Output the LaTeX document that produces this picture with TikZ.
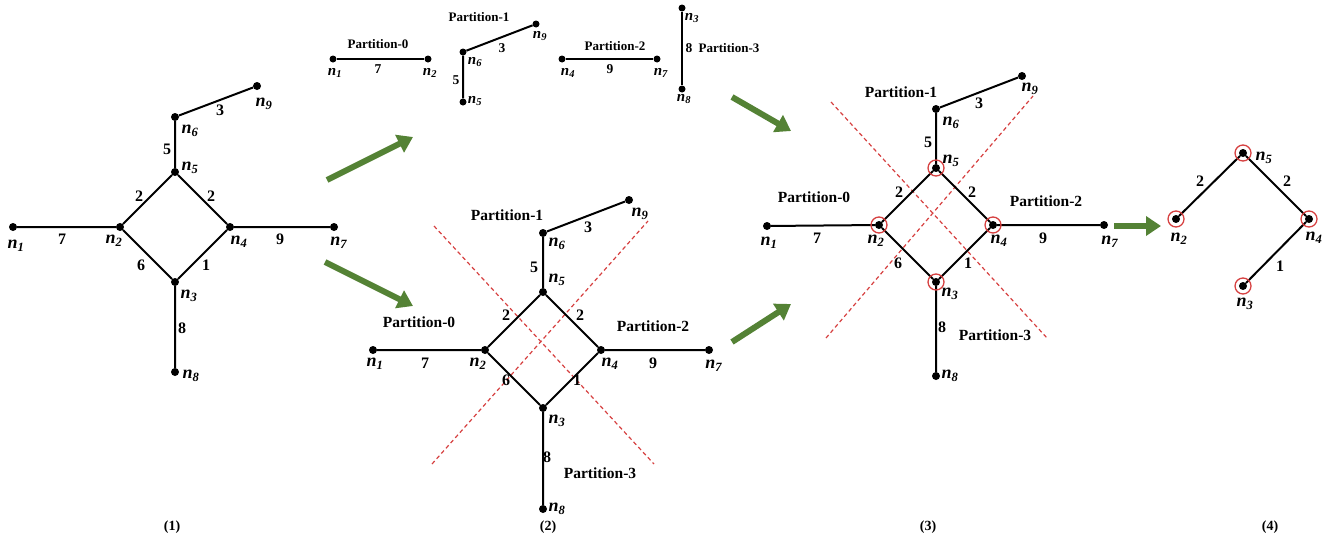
\documentclass[tikz,border=0pt]{standalone}
\usepackage{fontspec}
\setmainfont{Liberation Serif}
\usetikzlibrary{arrows.meta,calc}
\definecolor{garrowc}{RGB}{84,130,53}
\definecolor{cutc}{RGB}{214,64,64}
\newcommand\nnl[1]{\textbf{\textit{n}}\textsubscript{\textbf{\textit{#1}}}}
\tikzset{
  vdot/.style={circle,fill=black,inner sep=0pt,minimum size=8pt},
  sdot/.style={circle,fill=black,inner sep=0pt,minimum size=7pt},
  edge/.style={line width=2pt},
  wlab/.style={font=\fontsize{16}{16}\selectfont\bfseries,inner sep=0pt},
  nlab/.style={font=\fontsize{18}{18}\selectfont,inner sep=0pt},
  swlab/.style={font=\fontsize{13.5}{13.5}\selectfont\bfseries,inner sep=0pt},
  snlab/.style={font=\fontsize{15}{15}\selectfont,inner sep=0pt},
  plab/.style={font=\fontsize{15.5}{15.5}\selectfont\bfseries,inner sep=0pt},
  splab/.style={font=\fontsize{13}{13}\selectfont\bfseries,inner sep=0pt},
  caplab/.style={font=\fontsize{14}{14}\selectfont\bfseries,inner sep=0pt},
  cut/.style={cutc,line width=1.2pt,dash pattern=on 4pt off 3pt},
  ring/.style={circle,draw=cutc,line width=1.3pt,minimum size=16pt,inner sep=0pt},
  garrow/.style={garrowc,line width=6pt,-{Triangle[width=19pt,length=15pt]}},
}
\begin{document}
\begin{tikzpicture}[x=1pt,y=-1pt]
\useasboundingbox (0,0) rectangle (1330,544);

% ---------------- Panel 1 ----------------
\node[vdot] (a1) at (13,227) {};
\node[vdot] (a2) at (120,227) {};
\node[vdot] (a4) at (230,227) {};
\node[vdot] (a5) at (175,172) {};
\node[vdot] (a3) at (175,282) {};
\node[vdot] (a7) at (334,227) {};
\node[vdot] (a6) at (175,117) {};
\node[vdot] (a9) at (257,86) {};
\node[vdot] (a8) at (175,372) {};
\draw[edge] (a1)--(a2) (a2)--(a5) (a5)--(a4) (a4)--(a3) (a3)--(a2) (a4)--(a7) (a5)--(a6) (a6)--(a9) (a3)--(a8);
\node[nlab] (la1) at (16,246) {\nnl{1}};
\node[nlab] (la2) at (114,241) {\nnl{2}};
\node[nlab] (la4) at (239,242) {\nnl{4}};
\node[nlab] (la7) at (339,243) {\nnl{7}};
\node[nlab] (la3) at (189,296) {\nnl{3}};
\node[nlab] (la8) at (191,376) {\nnl{8}};
\node[nlab] (la5) at (190,168) {\nnl{5}};
\node[nlab] (la6) at (190,131) {\nnl{6}};
\node[nlab] (la9) at (264,104) {\nnl{9}};
\node[wlab] (wa7) at (62,239) {7};
\node[wlab] (wa9) at (280,239) {9};
\node[wlab] (wa2l) at (139,196) {2};
\node[wlab] (wa2r) at (211,196) {2};
\node[wlab] (wa6) at (141,265) {6};
\node[wlab] (wa1) at (206,265) {1};
\node[wlab] (wa8) at (182,328) {8};
\node[wlab] (wa5) at (167,149) {5};
\node[wlab] (wa3) at (220,110) {3};
\node[caplab] (cap1) at (172,527) {(1)};

% ---------------- Top partitions ----------------
\node[sdot] (t1) at (333,59) {};
\node[sdot] (t2) at (428,59) {};
\draw[edge] (t1)--(t2);
\node[splab] (tp0) at (378,44) {Partition-0};
\node[swlab] (tw7) at (378,69) {7};
\node[snlab] (tl1) at (335,73) {\nnl{1}};
\node[snlab] (tl2) at (430,73) {\nnl{2}};

\node[sdot] (t6) at (463,52) {};
\node[sdot] (t9) at (536,24) {};
\node[sdot] (t5) at (463,102) {};
\draw[edge] (t5)--(t6) (t6)--(t9);
\node[splab] (tp1) at (479,17) {Partition-1};
\node[swlab] (tw3) at (502,48) {3};
\node[swlab] (tw5) at (456,80) {5};
\node[snlab] (tl6) at (475,62) {\nnl{6}};
\node[snlab] (tl9) at (540,36) {\nnl{9}};
\node[snlab] (tl5) at (475,101) {\nnl{5}};

\node[sdot] (t4) at (562,59) {};
\node[sdot] (t7) at (657,59) {};
\draw[edge] (t4)--(t7);
\node[splab] (tp2) at (615,46) {Partition-2};
\node[swlab] (tw9) at (610,69) {9};
\node[snlab] (tl4) at (568,73) {\nnl{4}};
\node[snlab] (tl7) at (661,73) {\nnl{7}};

\node[sdot] (t3) at (682,8) {};
\node[sdot] (t8) at (682,89) {};
\draw[edge] (t3)--(t8);
\node[swlab] (tw8) at (689,48) {8};
\node[splab] (tp3) at (729,48) {Partition-3};
\node[snlab] (tl3) at (692,18) {\nnl{3}};
\node[snlab] (tl8) at (684,99) {\nnl{8}};

% ---------------- Panel 2 ----------------
\draw[cut] (434,226) -- (654,464);
\draw[cut] (432,464) -- (648,221);
\node[vdot] (b1) at (373,350) {};
\node[vdot] (b2) at (485,350) {};
\node[vdot] (b4) at (601,350) {};
\node[vdot] (b5) at (543,292) {};
\node[vdot] (b3) at (543,408) {};
\node[vdot] (b7) at (709,350) {};
\node[vdot] (b6) at (543,233) {};
\node[vdot] (b9) at (629,200) {};
\node[vdot] (b8) at (543,509) {};
\draw[edge] (b1)--(b2) (b2)--(b5) (b5)--(b4) (b4)--(b3) (b3)--(b2) (b4)--(b7) (b5)--(b6) (b6)--(b9) (b3)--(b8);
\node[nlab] (lb1) at (375,364) {\nnl{1}};
\node[nlab] (lb2) at (478,364) {\nnl{2}};
\node[nlab] (lb4) at (610,364) {\nnl{4}};
\node[nlab] (lb7) at (714,366) {\nnl{7}};
\node[nlab] (lb3) at (557,421) {\nnl{3}};
\node[nlab] (lb8) at (557,509) {\nnl{8}};
\node[nlab] (lb5) at (557,280) {\nnl{5}};
\node[nlab] (lb6) at (557,244) {\nnl{6}};
\node[nlab] (lb9) at (640,214) {\nnl{9}};
\node[wlab] (wb7) at (425,363) {7};
\node[wlab] (wb9) at (653,363) {9};
\node[wlab] (wb2l) at (506,315) {2};
\node[wlab] (wb2r) at (580,315) {2};
\node[wlab] (wb6) at (506,380) {6};
\node[wlab] (wb1) at (577,380) {1};
\node[wlab] (wb8) at (547,457) {8};
\node[wlab] (wb5) at (534,267) {5};
\node[wlab] (wb3) at (588,227) {3};
\node[plab] (bp0) at (419,322) {Partition-0};
\node[plab] (bp1) at (507,215) {Partition-1};
\node[plab] (bp2) at (653,326) {Partition-2};
\node[plab] (bp3) at (600,473) {Partition-3};
\node[caplab] (cap2) at (548,527) {(2)};

% ---------------- Panel 3 ----------------
\draw[cut] (831,102) -- (1047,338);
\draw[cut] (826,338) -- (1033,96);
\node[vdot] (c1) at (767,226) {};
\node[vdot] (c2) at (879,225) {};
\node[vdot] (c4) at (993,225) {};
\node[vdot] (c5) at (936,168) {};
\node[vdot] (c3) at (936,282) {};
\node[vdot] (c7) at (1104,225) {};
\node[vdot] (c6) at (936,109) {};
\node[vdot] (c9) at (1022,76) {};
\node[vdot] (c8) at (936,376) {};
\draw[edge] (c1)--(c2) (c2)--(c5) (c5)--(c4) (c4)--(c3) (c3)--(c2) (c4)--(c7) (c5)--(c6) (c6)--(c9) (c3)--(c8);
\node[ring] (rc2) at (c2) {};
\node[ring] (rc4) at (c4) {};
\node[ring] (rc5) at (c5) {};
\node[ring] (rc3) at (c3) {};
\node[nlab] (lc1) at (769,243) {\nnl{1}};
\node[nlab] (lc2) at (876,241) {\nnl{2}};
\node[nlab] (lc4) at (999,241) {\nnl{4}};
\node[nlab] (lc7) at (1110,242) {\nnl{7}};
\node[nlab] (lc3) at (950,294) {\nnl{3}};
\node[nlab] (lc8) at (950,376) {\nnl{8}};
\node[nlab] (lc5) at (951,161) {\nnl{5}};
\node[nlab] (lc6) at (951,123) {\nnl{6}};
\node[nlab] (lc9) at (1030,89) {\nnl{9}};
\node[wlab] (wc7) at (817,238) {7};
\node[wlab] (wc9) at (1043,238) {9};
\node[wlab] (wc2l) at (899,192) {2};
\node[wlab] (wc2r) at (972,192) {2};
\node[wlab] (wc6) at (898,263) {6};
\node[wlab] (wc1) at (968,263) {1};
\node[wlab] (wc8) at (942,327) {8};
\node[wlab] (wc5) at (928,142) {5};
\node[wlab] (wc3) at (979,103) {3};
\node[plab] (cp0) at (814,197) {Partition-0};
\node[plab] (cp1) at (901,92) {Partition-1};
\node[plab] (cp2) at (1046,201) {Partition-2};
\node[plab] (cp3) at (995,335) {Partition-3};
\node[caplab] (cap3) at (928,527) {(3)};

% ---------------- Panel 4 ----------------
\node[vdot] (d5) at (1243,153) {};
\node[vdot] (d2) at (1176,219) {};
\node[vdot] (d4) at (1309,219) {};
\node[vdot] (d3) at (1243,286) {};
\draw[edge] (d2)--(d5) (d5)--(d4) (d4)--(d3);
\node[ring] (rd2) at (d2) {};
\node[ring] (rd4) at (d4) {};
\node[ring] (rd5) at (d5) {};
\node[ring] (rd3) at (d3) {};
\node[nlab] (ld5) at (1264,158) {\nnl{5}};
\node[nlab] (ld2) at (1179,239) {\nnl{2}};
\node[nlab] (ld4) at (1314,238) {\nnl{4}};
\node[nlab] (ld3) at (1245,304) {\nnl{3}};
\node[wlab] (wd2l) at (1200,181) {2};
\node[wlab] (wd2r) at (1287,181) {2};
\node[wlab] (wd1) at (1280,266) {1};
\node[caplab] (cap4) at (1270,527) {(4)};

% ---------------- Green arrows ----------------
\coordinate (g1s) at (327,180); \coordinate (g1e) at (413,137);
\coordinate (g2s) at (325,262); \coordinate (g2e) at (413,306);
\coordinate (g3s) at (732,97);  \coordinate (g3e) at (791,131);
\coordinate (g4s) at (732,342); \coordinate (g4e) at (791,304);
\coordinate (g5s) at (1114,226); \coordinate (g5e) at (1161,226);
\draw[garrow] (g1s) -- (g1e);
\draw[garrow] (g2s) -- (g2e);
\draw[garrow] (g3s) -- (g3e);
\draw[garrow] (g4s) -- (g4e);
\draw[garrow] (g5s) -- (g5e);
\end{tikzpicture}
\end{document}
